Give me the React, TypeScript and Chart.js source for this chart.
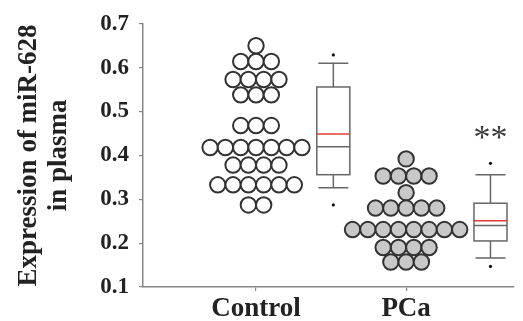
import React, { useEffect, useRef } from 'react';
import { Chart, registerables } from 'chart.js';

Chart.register(...registerables);

// ---- data ----
const categories = ['Control', 'PCa'];
const controlValues = [
  0.65,
  0.614, 0.614, 0.614,
  0.573, 0.573, 0.573, 0.573,
  0.538, 0.538, 0.538,
  0.468, 0.468, 0.468,
  0.418, 0.418, 0.418, 0.418, 0.418, 0.418, 0.418,
  0.378, 0.378, 0.378, 0.378,
  0.333, 0.333, 0.333, 0.333, 0.333, 0.333,
  0.287, 0.287,
];
const pcaValues = [
  0.392,
  0.353, 0.353, 0.353, 0.353,
  0.315,
  0.28, 0.28, 0.28, 0.28, 0.28,
  0.231, 0.231, 0.231, 0.231, 0.231, 0.231, 0.231, 0.231,
  0.19, 0.19, 0.19, 0.19,
  0.157, 0.157, 0.157,
];
const boxLowerWhisker = [0.326, 0.166];
const boxQ1 = [0.356, 0.205];
const boxMedian = [0.42, 0.24];
const boxMean = [0.449, 0.251];
const boxQ3 = [0.556, 0.291];
const boxUpperWhisker = [0.61, 0.356];
const boxOutliersLow = [0.287, 0.147];
const boxOutliersHigh = [0.629, 0.382];
const significance = ['', '**'];
const yTickValues = [0.1, 0.2, 0.3, 0.4, 0.5, 0.6, 0.7];

// ---- layout constants ----
const groupX = [1, 2];
const boxX = [1.515, 2.562];
const swarmStep = 0.102;
const boxHalf = 0.11;
const capHalf = 0.1;
const SERIF = "'Liberation Serif', 'Times New Roman', serif";

function swarm(values: number[], center: number) {
  const counts = new Map<number, number>();
  values.forEach((v) => counts.set(v, (counts.get(v) || 0) + 1));
  const pts: { x: number; y: number }[] = [];
  counts.forEach((n, v) => {
    for (let i = 0; i < n; i++) {
      pts.push({ x: center + (i - (n - 1) / 2) * swarmStep, y: v });
    }
  });
  return pts;
}

const boxPlugin = {
  id: 'boxPlot',
  afterDatasetsDraw(chart: any) {
    const { ctx, scales } = chart;
    const x = scales.x;
    const y = scales.y;
    ctx.save();
    for (let i = 0; i < categories.length; i++) {
      const cx = x.getPixelForValue(boxX[i]);
      const hw = x.getPixelForValue(boxX[i] + boxHalf) - cx;
      const ch = x.getPixelForValue(boxX[i] + capHalf) - cx;
      const yq1 = y.getPixelForValue(boxQ1[i]);
      const yq3 = y.getPixelForValue(boxQ3[i]);
      const ylo = y.getPixelForValue(boxLowerWhisker[i]);
      const yhi = y.getPixelForValue(boxUpperWhisker[i]);
      const ymed = y.getPixelForValue(boxMedian[i]);
      const ymean = y.getPixelForValue(boxMean[i]);
      ctx.strokeStyle = '#666';
      ctx.lineWidth = 1.5;
      ctx.beginPath();
      ctx.moveTo(cx, yq3); ctx.lineTo(cx, yhi);
      ctx.moveTo(cx - ch, yhi); ctx.lineTo(cx + ch, yhi);
      ctx.moveTo(cx, yq1); ctx.lineTo(cx, ylo);
      ctx.moveTo(cx - ch, ylo); ctx.lineTo(cx + ch, ylo);
      ctx.stroke();
      ctx.strokeRect(cx - hw, yq3, hw * 2, yq1 - yq3);
      ctx.beginPath();
      ctx.moveTo(cx - hw, ymed); ctx.lineTo(cx + hw, ymed);
      ctx.stroke();
      ctx.strokeStyle = '#e23a3a';
      ctx.beginPath();
      ctx.moveTo(cx - hw, ymean); ctx.lineTo(cx + hw, ymean);
      ctx.stroke();
      if (significance[i]) {
        ctx.fillStyle = '#3a3a3a';
        ctx.font = `34px ${SERIF}`;
        ctx.textAlign = 'center';
        ctx.textBaseline = 'middle';
        ctx.fillText(significance[i], cx, y.getPixelForValue(0.437));
      }
    }
    ctx.restore();
  },
};

export default function App() {
  const ref = useRef<HTMLCanvasElement>(null);
  useEffect(() => {
    if (!ref.current) return;
    const outliers = [0, 1].flatMap((i) => [
      { x: boxX[i], y: boxOutliersLow[i] },
      { x: boxX[i], y: boxOutliersHigh[i] },
    ]);
    const chart = new Chart(ref.current, {
      type: 'scatter',
      data: {
        datasets: [
          {
            data: swarm(controlValues, groupX[0]),
            pointRadius: 7.7,
            pointBorderWidth: 2,
            borderColor: '#333',
            backgroundColor: '#ffffff',
          },
          {
            data: swarm(pcaValues, groupX[1]),
            pointRadius: 7.7,
            pointBorderWidth: 2,
            borderColor: '#333',
            backgroundColor: '#c8c8c8',
          },
          {
            data: outliers,
            pointRadius: 1.6,
            pointBorderWidth: 0,
            borderColor: '#111',
            backgroundColor: '#111',
          },
        ],
      },
      options: {
        animation: false,
        responsive: false,
        maintainAspectRatio: false,
        layout: { padding: { top: 19, right: 0, left: 0, bottom: 0 } },
        plugins: { legend: { display: false }, tooltip: { enabled: false } },
        scales: {
          x: {
            type: 'linear',
            min: 0.247,
            max: 2.714,
            afterBuildTicks: (s: any) => {
              s.ticks = groupX.map((v) => ({ value: v }));
            },
            afterFit: (s: any) => {
              s.height = 34;
            },
            ticks: {
              callback: (v: any) => categories[groupX.indexOf(Number(v))] ?? '',
              font: { family: SERIF, size: 27, weight: 'bold' },
              color: '#222',
              padding: 2,
              maxRotation: 0,
              autoSkip: false,
            },
            grid: { drawOnChartArea: false, drawTicks: true, tickLength: 4, color: '#888', lineWidth: 1.2 },
            border: { color: '#888', width: 1.5 },
          },
          y: {
            min: 0.1,
            max: 0.7,
            afterBuildTicks: (s: any) => {
              s.ticks = yTickValues.map((v) => ({ value: v }));
            },
            afterFit: (s: any) => {
              s.width = 143;
            },
            ticks: {
              callback: (v: any) => Number(v).toFixed(1),
              font: { family: SERIF, size: 23, weight: 'bold' },
              color: '#222',
              padding: 10,
            },
            grid: { drawOnChartArea: false, drawTicks: true, tickLength: 4, color: '#888', lineWidth: 1.2 },
            border: { color: '#888', width: 1.5 },
            title: {
              display: true,
              text: ['Expression of miR-628', 'in plasma'],
              font: { family: SERIF, size: 27, weight: 'bold', lineHeight: 1.1 },
              color: '#222',
              padding: { top: 14, bottom: 0 },
            },
          },
        },
      },
      plugins: [boxPlugin],
    });
    return () => chart.destroy();
  }, []);
  return (
    <div style={{ position: 'fixed', left: 0, top: 0, width: 523, height: 321, background: '#fff' }}>
      <canvas ref={ref} width={523} height={321} style={{ width: 523, height: 321 }} />
    </div>
  );
}
